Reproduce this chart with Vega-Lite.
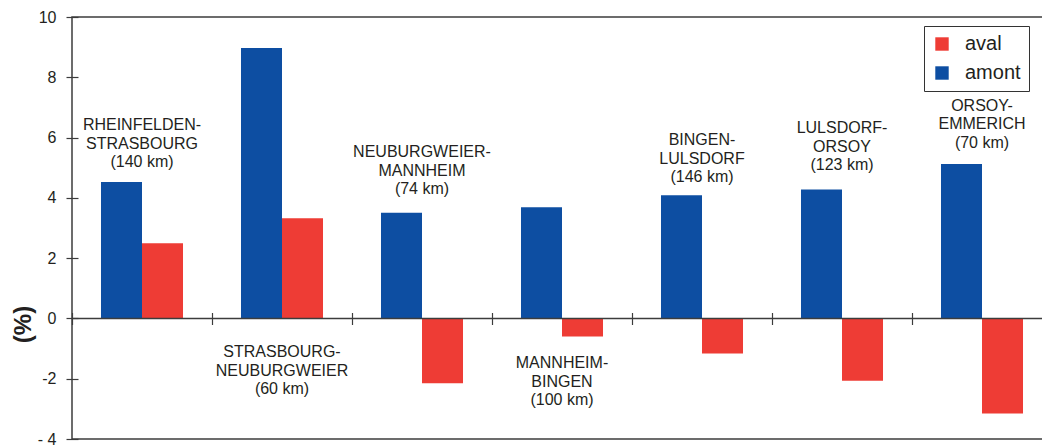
{
  "$schema": "https://vega.github.io/schema/vega-lite/v6.json",
  "width": 980,
  "height": 422,
  "autosize": {"type": "none"},
  "padding": {"left": 72, "top": 17, "right": -10, "bottom": 7},
  "background": "white",
  "config": {
    "font": "Liberation Sans",
    "view": {"stroke": "#3c3c3c", "strokeWidth": 1.5},
    "axis": {"domainColor": "#3c3c3c", "tickColor": "#3c3c3c", "labelColor": "#231f20", "titleColor": "#231f20"}
  },
  "datasets": {
    "bars": [
      {"troncon": "T1", "serie": "amont", "value": 4.53},
      {"troncon": "T1", "serie": "aval", "value": 2.49},
      {"troncon": "T2", "serie": "amont", "value": 8.97},
      {"troncon": "T2", "serie": "aval", "value": 3.32},
      {"troncon": "T3", "serie": "amont", "value": 3.51},
      {"troncon": "T3", "serie": "aval", "value": -2.15},
      {"troncon": "T4", "serie": "amont", "value": 3.69},
      {"troncon": "T4", "serie": "aval", "value": -0.6},
      {"troncon": "T5", "serie": "amont", "value": 4.09},
      {"troncon": "T5", "serie": "aval", "value": -1.16},
      {"troncon": "T6", "serie": "amont", "value": 4.28},
      {"troncon": "T6", "serie": "aval", "value": -2.07},
      {"troncon": "T7", "serie": "amont", "value": 5.12},
      {"troncon": "T7", "serie": "aval", "value": -3.15}
    ],
    "labels": [
      {"troncon": "T1", "ly": 6.68, "label": "RHEINFELDEN-|STRASBOURG|(140 km)"},
      {"troncon": "T2", "ly": -0.86, "label": "STRASBOURG-|NEUBURGWEIER|(60 km)"},
      {"troncon": "T3", "ly": 5.78, "label": "NEUBURGWEIER-|MANNHEIM|(74 km)"},
      {"troncon": "T4", "ly": -1.22, "label": "MANNHEIM-|BINGEN|(100 km)"},
      {"troncon": "T5", "ly": 6.18, "label": "BINGEN-|LULSDORF|(146 km)"},
      {"troncon": "T6", "ly": 6.58, "label": "LULSDORF-|ORSOY|(123 km)"},
      {"troncon": "T7", "ly": 7.32, "label": "ORSOY-|EMMERICH|(70 km)"}
    ]
  },
  "layer": [
    {
      "data": {"name": "bars"},
      "mark": {"type": "bar"},
      "encoding": {
        "x": {
          "field": "troncon", "type": "nominal", "sort": null,
          "scale": {"paddingInner": 0, "paddingOuter": 0},
          "axis": {"orient": "bottom", "offset": -126.5, "domain": false, "labels": false, "ticks": true, "tickSize": 12, "tickWidth": 1.2, "bandPosition": 0, "title": null}
        },
        "xOffset": {"field": "serie", "type": "nominal", "scale": {"domain": ["amont", "aval"], "paddingOuter": 0.707, "paddingInner": 0}},
        "y": {
          "field": "value", "type": "quantitative",
          "scale": {"domain": [-4, 10], "nice": false, "zero": false},
          "axis": {
            "values": [-4, -2, 0, 2, 4, 6, 8, 10],
            "offset": -6, "tickSize": 12, "tickWidth": 1.2, "domain": false, "grid": false,
            "labelFontSize": 16, "labelPadding": 10,
            "labelExpr": "datum.value == -4 ? '- 4' : (datum.value < 0 ? '-' + abs(datum.value) : datum.label)",
            "title": "(%)", "titleFontSize": 24, "titleFontWeight": "bold", "titlePadding": 2, "titleY": 307
          }
        },
        "color": {
          "field": "serie", "type": "nominal",
          "scale": {"domain": ["aval", "amont"], "range": ["#ee3c35", "#0d4ea2"]},
          "legend": {
            "orient": "none", "legendX": 852, "legendY": 9, "title": null,
            "symbolType": "square", "symbolSize": 180, "symbolStrokeWidth": 0,
            "labelFontSize": 20, "labelColor": "#231f20", "rowPadding": 9, "labelOffset": 13,
            "strokeColor": "#333333", "fillColor": "white", "padding": 8
          }
        }
      }
    },
    {
      "data": {"values": [{"z": 0}]},
      "mark": {"type": "rule", "color": "#3c3c3c", "strokeWidth": 1.5},
      "encoding": {"y": {"field": "z", "type": "quantitative"}}
    },
    {
      "data": {"name": "labels"},
      "mark": {"type": "text", "baseline": "top", "align": "center", "fontSize": 16, "lineBreak": "|", "lineHeight": 18.5, "color": "#231f20"},
      "encoding": {
        "x": {"field": "troncon", "type": "nominal", "sort": null},
        "y": {"field": "ly", "type": "quantitative"},
        "text": {"field": "label"}
      }
    }
  ]
}
